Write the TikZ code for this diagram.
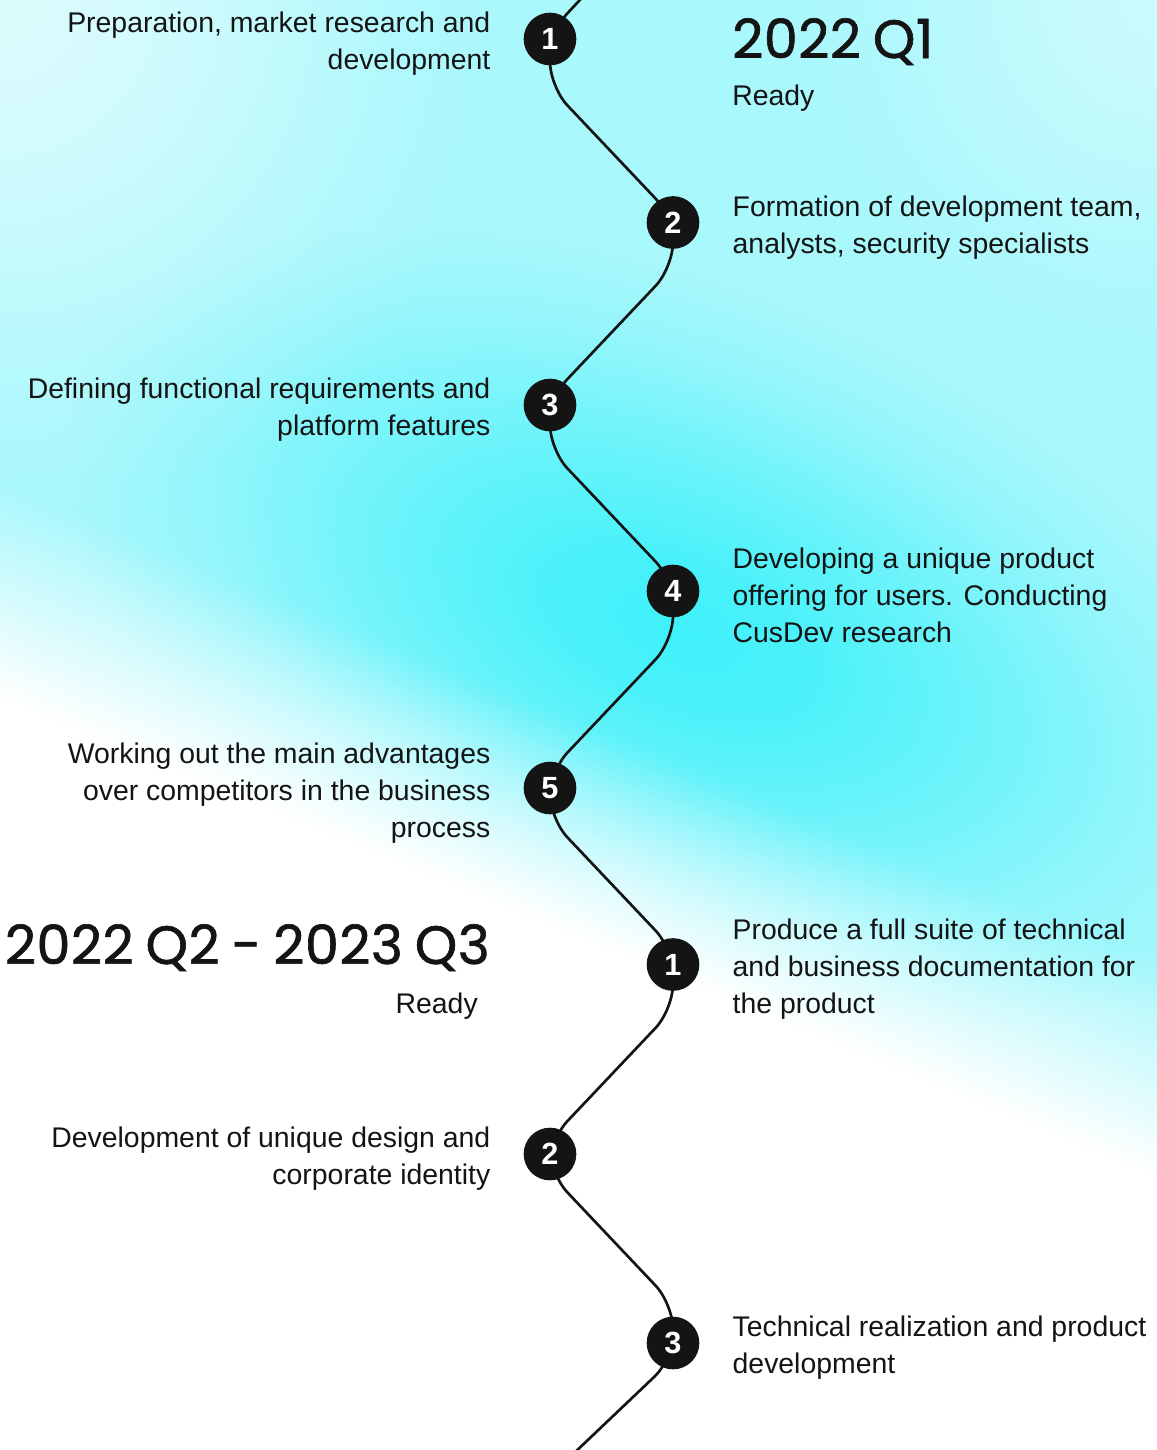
\documentclass[tikz,border=0pt]{standalone}
\usepackage{fontspec}
\setmainfont{Liberation Sans}
\newfontfamily\headfont{Poppins}[FakeBold=1.2,WordSpace=0.8,LetterSpace=1]
\usetikzlibrary{positioning,calc,fadings}
\definecolor{ink}{HTML}{141414}
\definecolor{fieldcyan}{HTML}{A8F8FC}
\definecolor{corecyan}{HTML}{40F1FA}
\pgfdeclarelayer{glowlayer}
\pgfdeclarelayer{tracklayer}
\pgfsetlayers{glowlayer,tracklayer,main}
\pgfdeclareradialshading{glowmask}{\pgfpointorigin}{color(0bp)=(white); color(5bp)=(white!90!black); color(12.5bp)=(white!55!black); color(19bp)=(white!20!black); color(25bp)=(black); color(50bp)=(black)}
\pgfdeclarefading{glow}{\pgfuseshading{glowmask}}
\tikzfading[name=fadeup, top color=transparent!100, bottom color=transparent!0]
\tikzset{
  milestone/.style={circle,fill=ink,text=white,minimum size=39.5pt,inner sep=0pt,
    font=\bfseries\fontsize{23}{23}\selectfont},
  note_l/.style={anchor=east,align=right,inner sep=0pt,text=ink,yshift=-3.5pt,
    font=\fontsize{21.3}{27.75}\selectfont},
  note_r/.style={anchor=west,align=left,inner sep=0pt,text=ink,yshift=-3.5pt,
    font=\fontsize{21.3}{27.75}\selectfont},
  yearhead/.style={inner sep=0pt,text=ink,font=\headfont\fontsize{40.5}{44}\selectfont},
  readytag/.style={inner sep=0pt,text=ink,font=\fontsize{21.3}{24}\selectfont},
  track/.style={draw=ink,line width=2pt,rounded corners=19pt},
}

\begin{document}
\begin{tikzpicture}[x=0.75pt,y=-0.75pt,node distance=24.6pt]
  \useasboundingbox (0,0) rectangle (1157,1450);
  % milestones
  \node[milestone] (a1) at (550,39) {1};
  \node[milestone] (a2) at (673,222.5) {2};
  \node[milestone] (a3) at (550,405) {3};
  \node[milestone] (a4) at (673,591) {4};
  \node[milestone] (a5) at (550,788) {5};
  \node[milestone] (b1) at (673,964.5) {1};
  \node[milestone] (b2) at (550,1154) {2};
  \node[milestone] (b3) at (673,1343) {3};
  % notes
  \node[note_l,left=of a1] (na1) {Preparation, market research and\\development};
  \node[note_r,right=of a2] (na2) {Formation of development team,\\analysts, security specialists};
  \node[note_l,left=of a3] (na3) {Defining functional requirements and\\platform features};
  \node[note_r,right=of a4] (na4) {Developing a unique product\\offering for users. Conducting\\CusDev research};
  \node[note_l,left=of a5] (na5) {Working out the main advantages\\over competitors in the business\\process};
  \node[note_r,right=of b1] (nb1) {Produce a full suite of technical\\and business documentation for\\the product};
  \node[note_l,left=of b2] (nb2) {Development of unique design and\\corporate identity};
  \node[note_r,right=of b3] (nb3) {Technical realization and product\\development};
  % phase headings
  \node[yearhead,anchor=base west] (h1) at (732,58) {2022 Q1};
  \node[readytag,anchor=base west] (r1) at (732,105) {Ready};
  \node[yearhead,anchor=base east] (h2) at (490,964) {2022 Q2 - 2023 Q3};
  \node[readytag,anchor=base east] (r2) at (478,1013) {Ready};
  % track
  \coordinate (t0) at (673,-100);
  \coordinate (t9) at (550,1476);
  \begin{pgfonlayer}{tracklayer}
    \clip (0,0) rectangle (1157,1450);
    \draw[track] (t0) -- ($(a1)+(0,-7)$) -- (a1.center);
    \foreach \p/\n/\h in {a1/a2/48,a2/a3/45,a3/a4/45,a4/a5/50,a5/b1/31,b1/b2/45,b2/b3/20}
      \draw[track] (\p.center) -- ($(\p)+(0,\h)$) -- ($(\n |- \p)+(0,\h+130)$) -- (\n.center);
    \draw[track] (b3.center) -- ($(b3)+(0,16)$) -- (t9);
  \end{pgfonlayer}
  % background glow
  \begin{pgfonlayer}{glowlayer}
    \clip (0,0) rectangle (1157,1450);
    \fill[fieldcyan] (0,0) rectangle (1157,1450);
    \begin{scope}[transform canvas={shift={(680,630)},rotate=-22.5}]
      \fill[corecyan,path fading=glow] (0,0) ellipse [x radius=650,y radius=340];
    \end{scope}
    \fill[white,fill opacity=0.6,path fading=glow] (0,0) circle [radius=520];
    \fill[white,fill opacity=0.4,path fading=glow] (1157,0) circle [radius=380];
    \begin{scope}[transform canvas={shift={(0,600)},rotate=-22.5}]
      \fill[white,path fading=fadeup] (-600,-110) rectangle (2600,90);
      \fill[white] (-600,89) rectangle (2600,2000);
    \end{scope}
  \end{pgfonlayer}
\end{tikzpicture}
\end{document}
